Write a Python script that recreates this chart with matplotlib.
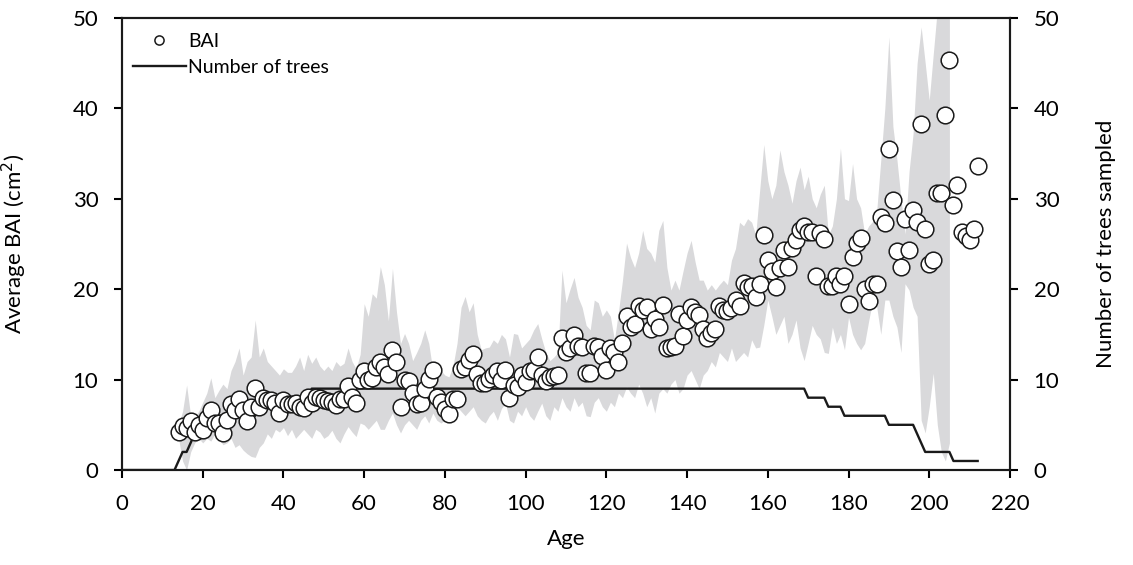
import numpy as np
import matplotlib
matplotlib.use("Agg")
import matplotlib.pyplot as plt

plt.rcParams['font.family'] = ['Lato', 'DejaVu Sans']

# BAI means, one per year of age (14..212)
bai_age = list(range(14, 213))
bai = [4.2, 4.9, 4.6, 5.4, 4.2, 5.0, 4.4, 5.7, 6.6, 5.2,
       5.2, 4.1, 5.5, 7.3, 6.6, 7.9, 6.6, 5.4, 7.0, 9.1,
       7.0, 8.0, 7.7, 7.7, 7.4, 6.3, 7.7, 7.3, 7.3, 7.4,
       7.0, 6.9, 8.1, 7.4, 8.1, 8.0, 7.7, 7.6, 7.55, 7.2,
       7.8, 7.8, 9.3, 8.1, 7.45, 10.0, 10.9, 10.0, 10.2, 11.4,
       12.0, 11.4, 10.6, 13.3, 11.9, 7.0, 9.95, 9.9, 8.55, 7.3,
       7.4, 9.0, 10.1, 11.05, 8.1, 7.55, 6.8, 6.25, 7.9, 7.9,
       11.2, 11.4, 12.15, 12.8, 10.6, 9.6, 9.65, 10.1, 10.5, 11.0,
       9.95, 11.05, 8.0, 9.4, 9.2, 10.5, 9.75, 10.9, 11.05, 12.5,
       10.5, 9.8, 10.3, 10.4, 10.5, 14.55, 13.1, 13.45, 14.9, 13.7,
       13.6, 10.7, 10.7, 13.7, 13.6, 12.6, 11.05, 13.45, 13.0, 11.9,
       14.1, 17.0, 15.8, 16.2, 18.1, 17.75, 18.0, 15.55, 16.65, 15.85,
       18.2, 13.55, 13.6, 13.7, 17.2, 14.8, 16.6, 18.0, 17.5, 17.1,
       15.65, 14.55, 15.1, 15.65, 18.1, 17.7, 17.6, 17.9, 18.8, 18.1,
       20.7, 20.25, 20.4, 19.15, 20.6, 26.0, 23.2, 22.0, 20.2, 22.3,
       24.3, 22.4, 24.6, 25.4, 26.5, 27.0, 26.3, 26.3, 21.5, 26.2,
       25.5, 20.4, 20.4, 21.5, 20.6, 21.5, 18.4, 23.6, 25.1, 25.7,
       20.0, 18.7, 20.6, 20.6, 28.0, 27.3, 35.5, 29.9, 24.2, 22.4,
       27.8, 24.3, 28.8, 27.4, 38.3, 26.7, 22.8, 23.2, 30.6, 30.6,
       39.3, 45.3, 29.3, 31.5, 26.3, 25.9, 25.4, 26.6, 33.6]

# grey band, ages 14..205
band_age = list(range(14, 206))
band_hi = [5.0, 6.5, 9.4, 6.0, 5.8, 6.5, 7.5, 8.5, 10.2, 8.0,
           8.8, 9.5, 9.0, 11.0, 12.0, 13.5, 10.5, 12.0, 12.5, 16.6,
           12.5, 13.5, 12.0, 11.5, 11.0, 10.5, 11.2, 10.8, 10.8, 11.5,
           12.5, 11.0, 12.8, 11.8, 12.5, 11.5, 11.0, 11.5, 11.0, 12.0,
           11.5, 11.8, 13.5, 12.0, 11.2, 12.8, 18.4, 17.0, 19.5, 19.0,
           22.5, 20.5, 16.5, 22.3, 17.5, 14.0, 15.1, 14.0, 12.1, 13.0,
           14.0, 15.5, 14.0, 11.0, 10.5, 11.0, 10.5, 10.3, 11.5, 14.0,
           18.0, 19.2, 17.5, 18.5, 15.0, 13.3, 13.5, 13.6, 14.4, 14.0,
           15.0, 14.5, 12.5, 15.1, 15.0, 13.5, 14.0, 14.5, 15.5, 16.2,
           14.5, 13.0, 12.1, 12.5, 13.0, 22.1, 18.5, 20.0, 21.3, 19.1,
           18.0, 16.0, 15.5, 18.8, 18.5, 17.0, 17.7, 17.0, 14.4, 17.5,
           21.0, 25.1, 23.5, 22.4, 24.0, 26.5, 24.5, 24.0, 23.0, 26.5,
           27.6, 22.4, 19.9, 21.0, 19.9, 22.0, 24.0, 25.4, 23.0, 21.0,
           21.0, 19.9, 20.5, 19.9, 20.5, 21.0, 20.5, 23.2, 24.5, 27.4,
           27.0, 27.8, 27.4, 26.0, 31.0, 36.0, 32.0, 30.0, 31.5, 35.4,
           33.0, 31.5, 29.5, 32.0, 33.5, 31.0, 32.5, 30.0, 29.0, 30.5,
           31.5, 26.0, 27.0, 30.0, 35.6, 30.0, 29.8, 33.9, 30.0, 29.0,
           26.1, 27.0, 27.5, 28.7, 34.3, 40.0, 47.9, 38.0, 34.3, 30.0,
           26.1, 33.0, 37.2, 45.0, 49.0, 45.0, 40.9, 46.0, 51.0, 52.0,
           52.0, 52.0]
band_lo = [3.5, 1.0, 0.0, 2.0, 3.0, 3.5, 3.0, 3.5, 3.2, 4.0,
           3.5, 2.8, 3.0, 3.5, 2.5, 2.8, 2.2, 1.8, 1.5, 1.4,
           2.5, 3.0, 4.0, 3.5, 4.5, 4.2, 4.7, 3.8, 4.5, 3.5,
           4.0, 4.5, 4.0, 3.5, 4.5, 4.2, 3.5, 3.8, 4.4, 3.5,
           3.0, 4.0, 4.8, 4.2, 3.7, 5.2, 5.0, 4.5, 5.0, 5.5,
           4.5, 4.5, 5.5, 6.3, 5.0, 4.1, 5.0, 5.5, 5.0, 4.5,
           5.5, 6.0, 5.2, 6.3, 5.5, 5.2, 5.5, 6.5, 6.0, 7.0,
           6.5, 6.0, 6.5, 7.0, 6.0, 5.5, 5.2, 6.0, 6.5, 5.5,
           6.8, 7.4, 5.5, 5.2, 6.5, 6.0, 7.0, 6.0, 5.5, 6.5,
           7.4, 6.0, 5.5, 7.0, 6.5, 8.0, 7.0, 6.5, 8.0, 7.0,
           7.5, 6.0, 5.9, 7.5, 8.0, 7.0, 6.5, 7.5, 7.0, 8.5,
           8.0, 9.2, 8.5, 8.0, 9.5, 8.5, 7.0, 8.0, 6.3, 8.5,
           9.0, 8.5, 9.5, 10.0, 8.5, 9.0, 10.5, 11.0, 10.0, 9.0,
           10.5, 11.0, 12.0, 11.4, 13.0, 12.5, 12.0, 13.5, 12.0, 12.5,
           13.0, 12.5, 14.4, 13.5, 13.6, 16.0, 18.8, 17.0, 15.0, 16.0,
           17.0, 14.0, 15.0, 16.6, 13.5, 12.1, 14.0, 16.0, 15.0, 14.5,
           13.0, 12.9, 15.8, 14.0, 15.0, 13.3, 16.9, 15.0, 14.0, 13.3,
           14.0, 16.5, 18.8, 18.0, 15.0, 18.8, 18.8, 17.0, 15.8, 13.0,
           20.6, 19.9, 18.0, 17.0, 5.5, 4.1, 7.0, 10.7, 5.0, 2.0,
           1.0, 3.0]

# number of trees sampled (vertices of the line)
tree_age = [0, 13, 15, 16, 18, 21, 23, 33, 34, 45, 47, 169, 170, 174, 175,
            178, 179, 189, 190, 196, 199, 205, 206, 212]
tree_n = [0, 0, 2, 2, 4, 4, 6, 6, 7, 7, 9, 9, 8, 8, 7,
          7, 6, 6, 5, 5, 2, 2, 1, 1]

fig = plt.figure(figsize=(11.33, 5.65), dpi=100)
ax = fig.add_axes([0.1077, 0.1681, 0.7837, 0.8002])

ax.fill_between(band_age, band_lo, band_hi, color='#d9d9db', lw=0, zorder=1)
ax.plot(tree_age, tree_n, color='#1a1a1a', lw=1.7, zorder=2, label='Number of trees')
ax.plot(bai_age, bai, 'o', ms=12, mfc='white', mec='#1a1a1a', mew=1.1,
        zorder=3, label='BAI')

ax.set_xlim(0, 220)
ax.set_ylim(0, 50)
ax.set_xticks(range(0, 221, 20))
ax.set_yticks(range(0, 51, 10))
ax.set_xlabel('Age', fontsize=16)
ax.set_ylabel('Average BAI (cm$^2$)', fontsize=16)
ax.tick_params(direction='out', length=6, width=1.5, labelsize=16)
ax.tick_params(axis='y', pad=11)
ax.tick_params(axis='x', pad=11)
ax.yaxis.set_label_coords(-0.105, 0.5)
ax.xaxis.set_label_coords(0.5, -0.13)

ax2 = ax.twinx()
ax2.set_ylim(0, 50)
ax2.set_yticks(range(0, 51, 10))
ax2.tick_params(direction='out', length=6, width=1.5, labelsize=16, pad=11)
ax2.set_ylabel('Number of trees sampled', fontsize=16)
ax2.yaxis.set_label_coords(1.097, 0.5)

for a in (ax, ax2):
    for s in a.spines.values():
        s.set_linewidth(1.5)
        s.set_color('#1a1a1a')

h, l = ax.get_legend_handles_labels()
ax.legend([h[1], h[0]], [l[1], l[0]], loc='upper left', frameon=False,
          fontsize=14, markerscale=0.55, handlelength=2.7, handletextpad=0.15,
          borderaxespad=0, borderpad=0, labelspacing=0.5,
          bbox_to_anchor=(0.0124, 0.9677))

fig.savefig('out.png', dpi=100)
